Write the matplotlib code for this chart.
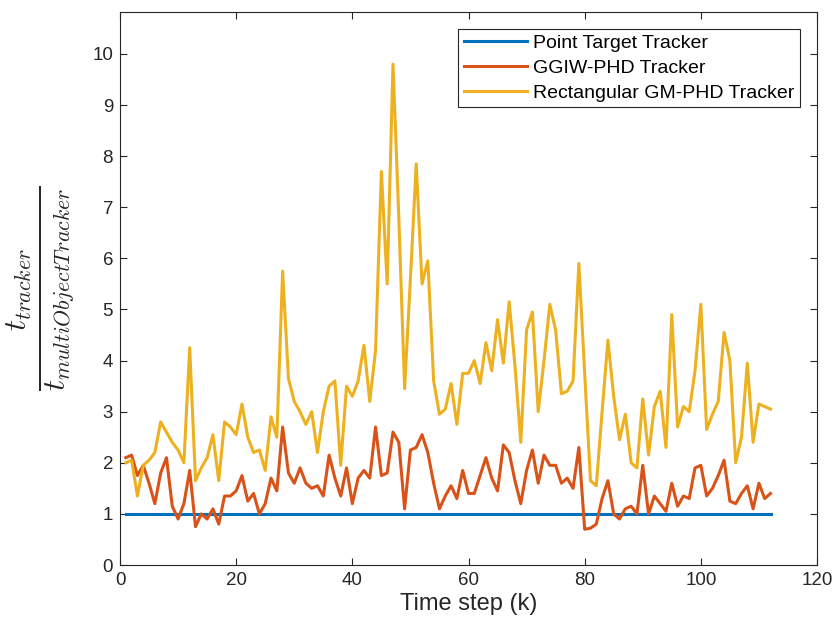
import matplotlib.pyplot as plt
import numpy as np

# time steps
k = np.arange(1, 113)

# Point Target Tracker (reference, always 1)
point_target = np.ones(112)

# GGIW-PHD Tracker
ggiw_phd = [2.1, 2.15, 1.75, 1.95, 1.6, 1.2, 1.8, 2.1, 1.15, 0.9,
            1.2, 1.85, 0.75, 1.0, 0.9, 1.1, 0.8, 1.35, 1.35, 1.45,
            1.75, 1.25, 1.4, 1.0, 1.2, 1.7, 1.45, 2.7, 1.8, 1.6,
            1.9, 1.6, 1.5, 1.55, 1.35, 2.15, 1.7, 1.35, 1.9, 1.2,
            1.7, 1.85, 1.7, 2.7, 1.75, 1.8, 2.6, 2.4, 1.1, 2.25,
            2.3, 2.55, 2.2, 1.6, 1.1, 1.35, 1.55, 1.3, 1.85, 1.4,
            1.4, 1.75, 2.1, 1.7, 1.45, 2.35, 2.2, 1.65, 1.2, 1.85,
            2.25, 1.6, 2.15, 1.95, 1.95, 1.6, 1.7, 1.5, 2.3, 0.7,
            0.72, 0.8, 1.3, 1.65, 1.0, 0.9, 1.1, 1.15, 1.0, 1.95,
            1.0, 1.35, 1.2, 1.05, 1.6, 1.15, 1.35, 1.3, 1.9, 1.95,
            1.35, 1.5, 1.75, 2.05, 1.25, 1.2, 1.4, 1.55, 1.1, 1.6,
            1.3, 1.4]

# Rectangular GM-PHD Tracker
rect_gm_phd = [2.0, 2.05, 1.35, 1.95, 2.05, 2.2, 2.8, 2.6, 2.4, 2.25,
               2.0, 4.25, 1.65, 1.9, 2.1, 2.55, 1.65, 2.8, 2.7, 2.55,
               3.15, 2.5, 2.2, 2.25, 1.85, 2.9, 2.5, 5.75, 3.65, 3.2,
               3.0, 2.75, 3.0, 2.2, 3.0, 3.5, 3.6, 1.95, 3.5, 3.3,
               3.6, 4.3, 3.2, 4.2, 7.7, 5.5, 9.8, 6.8, 3.45, 5.6,
               7.85, 5.5, 5.95, 3.6, 2.95, 3.05, 3.55, 2.75, 3.75, 3.75,
               4.0, 3.55, 4.35, 3.8, 4.8, 3.95, 5.15, 3.9, 2.4, 4.6,
               4.95, 3.0, 4.0, 5.1, 4.6, 3.35, 3.4, 3.6, 5.9, 3.75,
               1.65, 1.55, 3.0, 4.4, 3.3, 2.45, 2.95, 2.0, 1.9, 3.25,
               2.15, 3.1, 3.4, 2.3, 4.9, 2.7, 3.1, 3.0, 3.8, 5.1,
               2.65, 2.95, 3.2, 4.55, 4.0, 2.0, 2.5, 3.95, 2.4, 3.15,
               3.1, 3.05]

plt.rcParams['font.family'] = ['Liberation Sans', 'DejaVu Sans']
plt.rcParams['mathtext.fontset'] = 'cm'

fig = plt.figure(figsize=(8.36, 6.35), dpi=100)
ax = fig.add_axes([120 / 836, 1 - 565 / 635, 697 / 836, 553 / 635])

ax.plot(k, point_target, color='#0072BD', lw=2.2, label='Point Target Tracker')
ax.plot(k, ggiw_phd, color='#D95319', lw=2.2, label='GGIW-PHD Tracker')
ax.plot(k, rect_gm_phd, color='#EDB120', lw=2.2, label='Rectangular GM-PHD Tracker')

ax.set_xlim(0, 120)
ax.set_ylim(0, 10.82)
ax.set_xticks(np.arange(0, 121, 20))
ax.set_yticks(np.arange(0, 11, 1))
ax.tick_params(direction='in', top=True, right=True, labelsize=13.5,
               colors='#262626', length=5, pad=5)
for s in ax.spines.values():
    s.set_color('#262626')
    s.set_linewidth(0.8)

ax.set_xlabel('Time step (k)', fontsize=17, color='#262626', labelpad=3)
ax.set_ylabel(r'$\frac{t_{tracker}}{t_{multiObjectTracker}}$', fontsize=32,
              color='#262626')
ax.yaxis.set_label_coords(-0.062, 0.5)

leg = ax.legend(loc='upper right', fontsize=14, frameon=True, fancybox=False,
                edgecolor='#262626', handlelength=3.25, borderaxespad=0.85,
                labelspacing=0.37, borderpad=0.3, handletextpad=0.3,
                framealpha=1)
leg.get_frame().set_linewidth(0.8)

plt.savefig('out.png', dpi=100)
